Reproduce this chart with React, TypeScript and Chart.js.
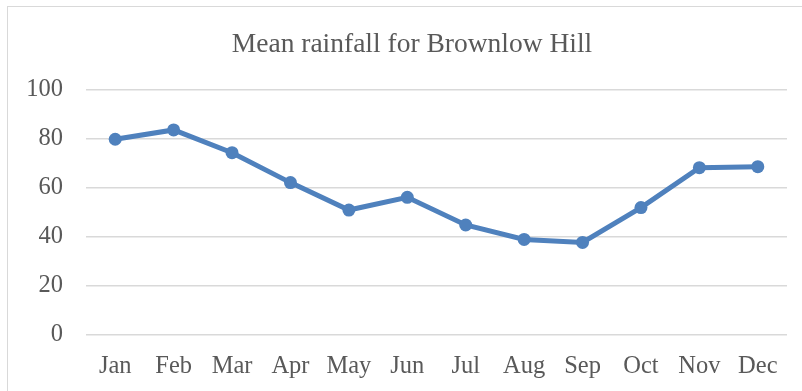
import React, { useEffect, useRef } from "react";
import { Chart, registerables } from "chart.js";

Chart.register(...registerables);

const months = ["Jan", "Feb", "Mar", "Apr", "May", "Jun", "Jul", "Aug", "Sep", "Oct", "Nov", "Dec"];
const rainfall = [79.9, 83.7, 74.4, 62.2, 51.0, 56.2, 44.9, 39.0, 37.8, 52.0, 68.3, 68.7];
const yMin = 0;
const yMax = 100;
const yStep = 20;
const titleText = "Mean rainfall for Brownlow Hill";

const FONT = "'Liberation Serif', 'DejaVu Serif', serif";
const TEXT = "#595959";
const GRID = "#d9d9d9";
const LINE = "#4f81bd";

const titlePlugin = {
  id: "centredTitle",
  afterDraw(chart: any) {
    const { ctx } = chart;
    ctx.save();
    ctx.font = `27.5px ${FONT}`;
    ctx.fillStyle = TEXT;
    ctx.textAlign = "center";
    ctx.textBaseline = "alphabetic";
    ctx.fillText(titleText, 412, 52);
    ctx.restore();
  },
};

export default function App() {
  const ref = useRef<HTMLCanvasElement | null>(null);

  useEffect(() => {
    if (!ref.current) return;
    const chart = new Chart(ref.current, {
      type: "line",
      data: {
        labels: months,
        datasets: [
          {
            data: rainfall,
            borderColor: LINE,
            backgroundColor: LINE,
            borderWidth: 5,
            pointRadius: 6.5,
            pointHoverRadius: 6.5,
            pointBackgroundColor: LINE,
            pointBorderWidth: 0,
            tension: 0,
          },
        ],
      },
      options: {
        animation: false,
        responsive: false,
        maintainAspectRatio: false,
        layout: { padding: { left: 0, right: 15, top: 90, bottom: 0 } },
        plugins: {
          legend: { display: false },
          title: { display: false },
          tooltip: { enabled: false },
        },
        scales: {
          x: {
            offset: true,
            grid: { display: false, drawTicks: false },
            border: { display: false },
            ticks: {
              color: TEXT,
              font: { family: FONT, size: 24.5 },
              padding: 17,
              maxRotation: 0,
            },
            afterFit(scale: any) {
              scale.height = 56;
            },
          },
          y: {
            min: yMin,
            max: yMax,
            grid: { color: GRID, lineWidth: 1.5, drawTicks: false },
            border: { display: false },
            ticks: {
              stepSize: yStep,
              color: TEXT,
              font: { family: FONT, size: 24.5 },
              padding: 23,
            },
            afterFit(scale: any) {
              scale.width = 86;
            },
          },
        },
      },
      plugins: [titlePlugin],
    });
    return () => chart.destroy();
  }, []);

  return (
    <div
      style={{
        position: "fixed",
        left: 0,
        top: 0,
        width: 802,
        height: 391,
        overflow: "hidden",
        background: "#fff",
      }}
    >
      <div
        style={{
          position: "absolute",
          left: 7,
          top: 6,
          width: 820,
          height: 420,
          border: `1px solid ${GRID}`,
        }}
      />
      <canvas ref={ref} width={802} height={391} style={{ position: "absolute", left: 0, top: 0 }} />
    </div>
  );
}
